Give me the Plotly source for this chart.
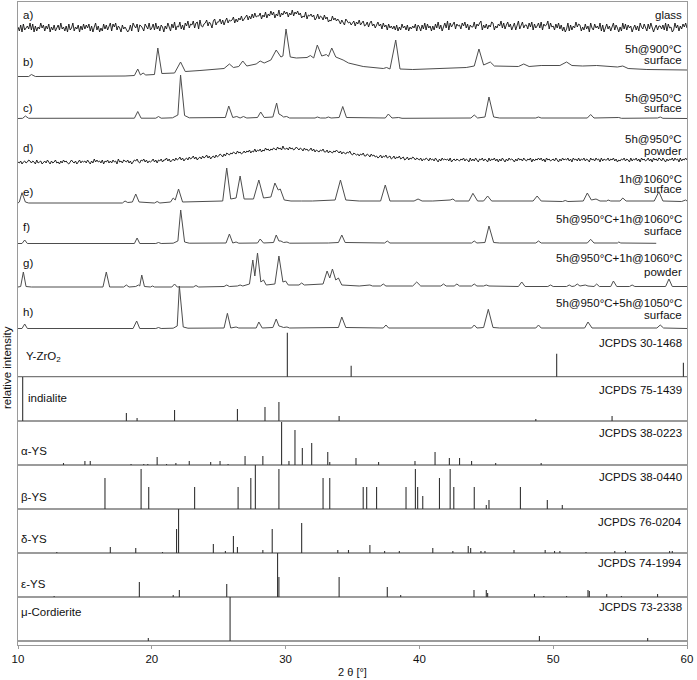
import numpy as np
import plotly.graph_objects as go

# ---------------- data ----------------
# amorphous patterns sampled every 0.1 deg from 10 to 60; each character is a value in px
# above the pattern reference (base-36 digit: 0-9, a=10 ... m=22), read from the picture.
glass_x = [round(10 + 0.1 * i, 2) for i in range(501)]
glass_a_str = (
    "5170824639" "2806153947" "1638052714" "7293516082" "4915370628"
    "3748160592" "6041837259" "1859264073" "5302719648" "0764185392"
    "4829361750" "6395184a26" "5a37296b48" "7b49a3c658" "9c6a84bd7a"
    "ad8c7be9cb" "cf9daecgbd" "fhcgdiejfg" "gjdhfkeigl" "hkeigmfjhl"
    "ikfjhmgkil" "hjegfkdhgi" "fhceidgfch" "dfacbgcebd" "b8ca7db9a7"
    "9b6a8c79b6" "7a59b6847a" "6839572846" "3627152846" "2715364817"
    "5173928461" "6284a37159" "4b2957a386" "7396a48275" "5a3869b274"
    "8375a92648" "6b4937a582" "5928b36a47" "7395a28469" "4a2867b395"
    "6284937150" "3917264a58" "7152836094" "2846391705" "8361592740"
    "5193827460" "4726195384" "1839504726" "6372918450" "2947163859" "4"
)
glass_d_str = (
    "2130231243" "1320412302" "3142031241" "2031423102" "4213024132"
    "3142031524" "2314032413" "1423052314" "3241302435" "2143524132"
    "3524143524" "4635245364" "5746356475" "6857467586" "7968578697"
    "8a97a8ba9b" "acbadbcabd" "bdcebdcfce" "dfcedgefdf" "egfehfgeif"
    "fgehfgefhf" "egfdgefdeg" "dfcedcedfc" "cebdcbdcec" "bdacbacbda"
    "9ba9a8a9b8" "8a97a89786" "7968796785" "6857685674" "5746576465"
    "4635465364" "5364253645" "4536245354" "3546354263" "5364254635"
    "4263546352" "5364253645" "4253645364" "3546253546" "4635264534"
    "5364253645" "4635264536" "3546354264" "5364526354" "4635463524"
    "3546354263" "5463526453" "4635264536" "5364253546" "3645263546" "4"
)
glass_a = [int(c, 36) for c in glass_a_str]
glass_d = [int(c, 36) for c in glass_d_str]

# crystalline patterns: (2theta, intensity) vertices
pattern_b = [(10, 0.5), (10.8, 0.5), (11.0, 2.5), (11.3, 0.5), (18.0, 1), (18.7, 1.5), (18.95, 8), (19.15, 2),
             (19.35, 4), (19.55, 2), (20.2, 2.5), (20.45, 29), (20.75, 3.5), (21.7, 4), (22.15, 15), (22.5, 5.5),
             (23.6, 6.5), (25.4, 8.5), (25.8, 13), (26.1, 9.5), (26.5, 10.5), (26.8, 16), (27.1, 11), (27.8, 13),
             (28.1, 16), (28.4, 14), (28.9, 17), (29.3, 27), (29.65, 20), (29.8, 21), (30.03, 48), (30.35, 20),
             (30.8, 19), (31.6, 19.5), (31.85, 21.5), (32.1, 19), (32.37, 32), (32.7, 21), (33.05, 22.5),
             (33.2, 20.5), (33.45, 29), (33.75, 20), (34.3, 17), (34.7, 14), (35.8, 10.5), (37.3, 8.5),
             (37.55, 9.5), (37.8, 8), (38.23, 37), (38.55, 8), (39.5, 7.5), (41.3, 8.5), (43.5, 9.5), (44.1, 11),
             (44.45, 28), (44.8, 12), (45.3, 15), (45.6, 11), (47.4, 10.5), (47.8, 13), (48.2, 10.5), (49.1, 11.5),
             (50.5, 11.5), (51.0, 15), (51.4, 11.5), (52.2, 11), (53.25, 11.5), (54.8, 10), (55.2, 11), (55.6, 8.5),
             (57, 7.5), (60, 7)]
pattern_c = [(10, 0.5), (10.35, 0.7), (10.55, 3), (10.8, 0.7), (18.7, 0.8), (18.95, 7.5), (19.2, 0.8), (20.3, 0.8),
             (20.5, 2.5), (20.7, 0.8), (21.55, 1.2), (21.8, 3.5), (21.95, 4), (22.15, 44), (22.45, 3.5), (22.8, 1.2),
             (25.5, 1.5), (25.75, 13), (26.05, 1.5), (26.35, 2.5), (26.6, 1), (26.85, 2.5), (27.1, 1), (27.9, 1.5),
             (28.14, 7), (28.4, 1.5), (29.05, 2), (29.33, 16), (29.5, 5), (29.65, 4), (29.85, 2), (30.08, 2.5),
             (30.3, 1), (32.2, 1), (32.37, 2), (32.6, 1), (33.0, 1), (33.2, 2), (33.4, 1), (34.0, 1.5), (34.27, 12.5),
             (34.55, 1.5), (37.45, 1), (37.68, 5), (37.95, 1), (38.45, 1.5), (38.7, 0.7), (43.85, 1), (44.1, 4),
             (44.35, 1), (44.9, 2), (45.2, 22), (45.55, 2), (46, 1), (48.7, 1), (48.9, 2), (49.1, 1), (52.55, 1),
             (52.8, 4.5), (53.05, 1), (54.9, 1.5), (55.1, 0.7), (57.8, 1), (58.0, 2), (58.2, 0.7), (60, 0.5)]
pattern_e = [(10, 1), (10.1, 2), (10.3, 11.3), (10.55, 2), (10.8, 1), (17.8, 1), (18.0, 3), (18.2, 1.5), (18.55, 2),
             (18.8, 10), (19.05, 2), (20.2, 1), (20.4, 2.5), (20.6, 1), (21.4, 2), (21.6, 6), (21.75, 4), (22.0, 15),
             (22.3, 2), (25.3, 3), (25.6, 36), (25.9, 5), (26.3, 6), (26.6, 28), (26.9, 5), (27.6, 5), (28.0, 24),
             (28.35, 6), (28.9, 7), (29.2, 21), (29.45, 14), (29.6, 15), (29.9, 4), (30.4, 3), (31.2, 3), (32.0, 3),
             (33.7, 4), (34.1, 24), (34.5, 4), (35.5, 3), (37.1, 3), (37.45, 19), (37.8, 3), (39.6, 3), (39.9, 5),
             (40.2, 3), (41.0, 3), (42.3, 4), (42.5, 5), (42.7, 3), (43.7, 3), (44.0, 10.7), (44.35, 3), (44.8, 3),
             (45.1, 8), (45.4, 3), (48.5, 3), (48.8, 8), (49.1, 3), (50.7, 2.5), (50.9, 3.5), (51.1, 2.5),
             (52.25, 3), (52.55, 11), (52.85, 4), (53.2, 5), (53.5, 3), (54.0, 3), (54.1, 4), (54.3, 3), (55.0, 3),
             (55.2, 6), (55.45, 3), (57.55, 3), (57.9, 12.3), (58.2, 3), (59.6, 2.5), (59.9, 4), (60, 3)]
pattern_f = [(10, 0.5), (10.3, 0.5), (10.5, 4), (10.7, 0.5), (18.7, 0.5), (18.9, 6), (19.1, 0.5), (20.3, 0.5),
             (20.5, 1.5), (20.7, 0.5), (21.6, 0.8), (21.8, 2), (21.95, 3), (22.16, 34), (22.45, 2), (22.8, 0.8),
             (25.55, 1), (25.8, 10), (26.05, 1), (26.3, 2), (26.5, 0.8), (27.9, 1), (28.1, 5), (28.35, 1),
             (29.1, 1.5), (29.3, 9), (29.5, 3), (29.65, 3), (29.85, 1.5), (30.1, 2), (30.3, 0.8), (33.2, 1),
             (33.95, 1.5), (34.2, 9), (34.45, 1.5), (37.4, 1), (37.6, 3), (37.8, 1), (43.9, 1), (44.1, 3), (44.3, 1),
             (44.9, 1.5), (45.2, 18), (45.55, 1.5), (46, 1), (48.7, 1), (48.9, 3), (49.1, 1), (52.55, 1),
             (52.8, 4.7), (53.05, 1), (54.8, 1), (54.9, 2), (55.05, 1), (57.7, 0.7)]
pattern_g = [(10, 1), (10.2, 1.5), (10.4, 16), (10.6, 1.5), (11, 1), (16.35, 1), (16.6, 16), (16.85, 1), (17.9, 1),
             (18.1, 3), (18.3, 1), (18.8, 1.5), (19.0, 3), (19.1, 2), (19.25, 13), (19.45, 1.5), (19.9, 1),
             (20.05, 2), (20.2, 1), (21.5, 1), (21.7, 4), (21.9, 1), (23.1, 1), (23.3, 2.5), (23.5, 1), (25.4, 1.5),
             (25.6, 3), (25.8, 1.5), (26.4, 2), (26.6, 3), (26.8, 2), (27.3, 4), (27.55, 28), (27.7, 12), (27.9, 35),
             (28.15, 6), (28.35, 8), (28.55, 3), (29.2, 4), (29.5, 32), (29.8, 6), (30.0, 7), (30.2, 3), (31.0, 3),
             (31.2, 5), (31.4, 3), (32.8, 4), (33.1, 17), (33.3, 10), (33.5, 19), (33.75, 8), (33.95, 10),
             (34.2, 3), (35.5, 2), (36.3, 3), (36.5, 2), (37.1, 2), (37.3, 4), (37.5, 2), (39.5, 2), (39.8, 6),
             (40.1, 2), (41.6, 2), (41.8, 4), (42.0, 2), (42.6, 2), (42.8, 4), (43.0, 2), (43.9, 2), (44.1, 4),
             (44.3, 2), (44.8, 2), (45.0, 3), (45.2, 2), (47.4, 1.5), (47.65, 6), (47.9, 1.5), (49.6, 1.5),
             (49.8, 3), (50.0, 1.5), (51.0, 1.5), (51.2, 3), (51.4, 1.5), (51.6, 2), (51.8, 4), (52.0, 2),
             (52.4, 3), (52.6, 2), (53.05, 1.5), (53.25, 4), (53.45, 1.5), (54.3, 1.5), (54.5, 7), (54.75, 1.5),
             (55.7, 1.5), (55.9, 3), (56.1, 1.5), (58.4, 1.5), (58.65, 9), (58.9, 1.5), (60, 1.5)]
pattern_h = [(10, 0.5), (10.3, 0.5), (10.5, 5), (10.7, 0.5), (18.6, 0.5), (18.87, 8), (19.1, 0.5), (20.3, 0.5),
             (20.5, 1.5), (20.7, 0.5), (21.6, 0.8), (21.8, 2), (21.9, 3), (22.06, 43), (22.35, 2), (22.7, 0.8),
             (25.4, 1), (25.65, 15.7), (25.9, 1), (26.3, 2), (26.5, 1), (27.8, 1), (28.0, 7), (28.25, 1),
             (29.05, 1.5), (29.3, 10), (29.5, 3), (29.65, 2.5), (29.85, 1.5), (30.1, 2), (30.3, 1), (33.95, 1.5),
             (34.2, 12), (34.5, 1.5), (37.3, 1), (37.5, 4), (37.7, 1), (43.9, 1), (44.1, 4), (44.3, 1), (44.8, 1.5),
             (45.15, 19.7), (45.5, 1.5), (46, 1), (48.7, 1), (48.9, 4), (49.1, 1), (52.35, 1), (52.6, 7),
             (52.9, 1), (57.75, 1), (58.0, 4), (58.25, 1), (60, 0.5)]

# reference stick patterns: positions (2theta) and heights (px, full = 44)
yzro2_pos = [30.13, 34.9, 50.26, 59.73]
yzro2_h = [44, 11, 23, 14]
indialite_pos = [10.35, 18.1, 18.9, 21.7, 26.4, 28.46, 29.5, 34.0, 48.7, 54.4]
indialite_h = [44, 8, 3, 11, 12, 14, 19, 5, 2, 5]
aYS_pos = [13.4, 15.0, 15.4, 18.45, 19.4, 19.7, 20.4, 21.1, 21.8, 22.8, 24.4, 25.1, 25.7, 26.97, 28.3, 29.7,
           30.25, 30.7, 31.25, 31.95, 33.15, 33.3, 35.26, 36.95, 39.67, 41.17, 42.24, 43.0, 43.9, 45.7, 49.1]
aYS_h = [2, 4, 4, 1, 1, 1, 8, 1, 2, 4, 3, 4, 1, 9, 9, 43, 4, 35, 17, 22, 13, 3, 7, 3, 4, 13, 7, 7, 4, 2, 2]
bYS_pos = [16.5, 19.2, 19.77, 23.2, 26.45, 27.4, 27.74, 29.5, 32.8, 33.3, 35.8, 36.06, 36.8, 39.0, 39.7, 39.87,
           40.25, 41.5, 42.3, 42.57, 44.1, 45.0, 45.2, 47.55, 49.56, 50.68]
bYS_h = [31, 40, 22, 22, 22, 31, 44, 40, 31, 31, 22, 22, 22, 22, 40, 22, 13, 31, 40, 22, 22, 4, 9, 22, 9, 4]
dYS_pos = [12.9, 16.9, 18.8, 20.8, 21.85, 22.0, 24.6, 25.5, 26.1, 26.4, 28.3, 29.0, 31.2, 33.9, 34.7, 36.3,
           37.4, 38.5, 41.0, 42.5, 43.65, 43.83, 44.6, 44.9, 47.07, 49.4, 50.1, 50.5, 52.45, 54.6, 55.4, 58.7, 58.9]
dYS_h = [1, 6, 5, 1, 24, 44, 9, 2, 17, 6, 3, 24, 30, 3, 3, 8, 2, 2, 5, 2, 7, 5, 2, 2, 3, 3, 2, 2, 1, 2, 2, 2, 2]
eYS_pos = [12.7, 19.07, 21.6, 22.06, 25.6, 29.4, 29.5, 34.0, 37.6, 38.6, 44.08, 45.0, 45.1, 48.6, 49.3, 51.0,
           52.6, 52.7, 54.0, 55.1, 57.8]
eYS_h = [1, 15, 2, 7, 13, 44, 20, 20, 10, 2, 7, 7, 4, 3, 1, 1, 7, 6, 3, 1, 3]
cord_pos = [19.74, 25.85, 48.97, 57.06]
cord_h = [3, 44, 5, 3]

x_ticks = [10, 20, 30, 40, 50, 60]

# ---------------- layout positions (px rows) ----------------
W, H = 697, 680
L, R, T, B = 18, 10, 2, 35
Y_BOTTOM, Y_TOP = H - B, T   # 645, 2

pattern_refs = {"a": 32, "b": 77, "c": 119, "d": 164, "e": 204, "f": 244, "g": 288, "h": 329}
panel_bases = [376.7, 421, 465, 509, 553, 597, 641]

DARK = "#111111"
GRAY = "#4d4d4d"
STICK = "#333333"
FRAME = "#9a9a9a"

fig = go.Figure()

def add_line(xs, ys, color, width=1.0):
    fig.add_trace(go.Scatter(x=xs, y=ys, mode="lines",
                             line=dict(color=color, width=width), hoverinfo="skip", showlegend=False))

# glass patterns
add_line(glass_x, [pattern_refs["a"] - v for v in glass_a], DARK, 0.9)
add_line(glass_x, [pattern_refs["d"] - v for v in glass_d], DARK, 0.9)

for key, pat in [("b", pattern_b), ("c", pattern_c), ("e", pattern_e),
                 ("f", pattern_f), ("g", pattern_g), ("h", pattern_h)]:
    xs = [p[0] for p in pat]
    ys = [pattern_refs[key] - p[1] for p in pat]
    add_line(xs, ys, GRAY, 1.0)

# panel separator / baseline lines
for yb in panel_bases:
    fig.add_shape(type="line", xref="paper", x0=0, x1=1, yref="y", y0=yb, y1=yb,
                  line=dict(color="#7a7a7a", width=1.3), layer="below")

# stick patterns
sticks = [(yzro2_pos, yzro2_h), (indialite_pos, indialite_h), (aYS_pos, aYS_h), (bYS_pos, bYS_h),
          (dYS_pos, dYS_h), (eYS_pos, eYS_h), (cord_pos, cord_h)]
for (pos, hs), yb in zip(sticks, panel_bases):
    xs, ys = [], []
    for p, h in zip(pos, hs):
        xs += [p, p, None]
        ys += [yb, yb - h, None]
    add_line(xs, ys, STICK, 1.1)

FONT = "Liberation Sans, Arial, sans-serif"
FS = 11.5

def ann(text, x, y, anchor, size=FS):
    fig.add_annotation(text=text, xref="paper", x=x, yref="y", y=y, xanchor=anchor, yanchor="middle",
                       showarrow=False, font=dict(family=FONT, size=size, color="#111"))

def px2paper(px):
    return (px - L) / (W - L - R)

# left letters
for lab, yy in [("a)", 15), ("b)", 62), ("c)", 107.7), ("d)", 148.3), ("e)", 191.7),
                ("f)", 226.7), ("g)", 262.7), ("h)", 311.7)]:
    ann(lab, px2paper(20.5), yy, "left")

# right descriptions
rx = px2paper(683.5)
for txt, yy in [("glass", 15), ("5h@900°C", 49.3), ("surface", 59.5), ("5h@950°C", 98.3), ("surface", 108),
                ("5h@950°C", 139.3), ("powder", 150.5), ("1h@1060°C", 179.3), ("surface", 189),
                ("5h@950°C+1h@1060°C", 219.3), ("surface", 231), ("5h@950°C+1h@1060°C", 258.3),
                ("powder", 272), ("5h@950°C+5h@1050°C", 302.7), ("surface", 314.5)]:
    ann(txt, rx, yy, "right")

for txt, yy in [("JCPDS 30-1468", 343.3), ("JCPDS 75-1439", 390), ("JCPDS 38-0223", 433.3),
                ("JCPDS 38-0440", 477.3), ("JCPDS 76-0204", 521.7), ("JCPDS 74-1994", 562.7),
                ("JCPDS 73-2338", 607.3)]:
    ann(txt, rx, yy, "right")

for txt, xx, yy in [("Y-ZrO<sub>2</sub>", 23.5, 357), ("indialite", 26, 398), ("α-YS", 19, 450.7),
                    ("β-YS", 19, 497.3), ("δ-YS", 19, 539.3), ("ε-YS", 19, 584), ("μ-Cordierite", 19, 611.7)]:
    ann(txt, px2paper(xx), yy, "left")

fig.add_annotation(text="relative intensity", xref="paper", x=px2paper(7), xanchor="center",
                   yref="y", y=368, yanchor="middle", textangle=-90, showarrow=False,
                   font=dict(family=FONT, size=FS, color="#111"))

fig.update_layout(
    width=W, height=H,
    margin=dict(l=L, r=R, t=T, b=B, pad=0),
    paper_bgcolor="white", plot_bgcolor="white",
    font=dict(family=FONT, size=FS, color="#111"),
    xaxis=dict(range=[10, 60], tickvals=x_ticks, ticks="outside", ticklen=3, tickcolor=FRAME,
               showline=True, linecolor=FRAME, linewidth=1.2, mirror=True, showgrid=False, zeroline=False,
               title=dict(text="2 θ [°]", font=dict(size=11, family=FONT), standoff=4),
               tickfont=dict(size=11.5, family=FONT)),
    yaxis=dict(range=[Y_BOTTOM, Y_TOP], showticklabels=False, ticks="", showline=True, linecolor=FRAME,
               linewidth=1.2, mirror=True, showgrid=False, zeroline=False),
)

fig.write_html("out.html", config={"displayModeBar": False},
               post_script="document.body.style.margin='0px';document.body.style.padding='0px';")
